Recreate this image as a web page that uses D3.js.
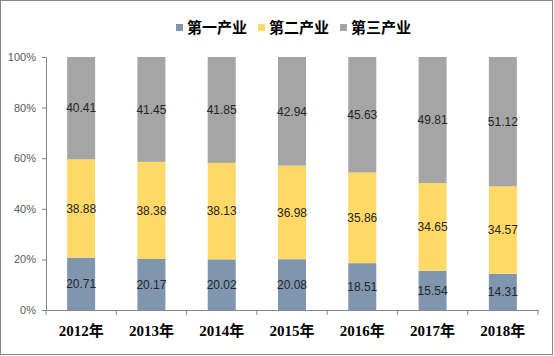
<!DOCTYPE html>
<html><head><meta charset="utf-8">
<script src="https://cdn.jsdelivr.net/npm/d3@7"></script>
<style>body{margin:0;background:#fff}svg{display:block}</style>
</head><body><svg id="c" width="554" height="356"></svg>
<script>
const years = ["2012年","2013年","2014年","2015年","2016年","2017年","2018年"];
const seriesNames = ["第一产业","第二产业","第三产业"];
const primary = [20.71,20.17,20.02,20.08,18.51,15.54,14.31];
const secondary = [38.88,38.38,38.13,36.98,35.86,34.65,34.57];
const tertiary = [40.41,41.45,41.85,42.94,45.63,49.81,51.12];
const yTicks = [0,20,40,60,80,100];
const colors = ["#8096b0","#ffd966","#a5a5a5"];

const svg = d3.select("#c");
svg.append("rect").attr("x",0.5).attr("y",0.5).attr("width",552).attr("height",354)
  .attr("fill","#fff").attr("stroke","#868686");

const y = d3.scaleLinear().domain([0,100]).range([310,57]);
const rows = years.map((yr,i)=>({year:yr, s0:primary[i], s1:secondary[i], s2:tertiary[i]}));
const stack = d3.stack().keys(["s0","s1","s2"])(rows);
const band = d3.scaleBand().domain(years).range([46,538]);

stack.forEach((layer,li)=>{
  const g = svg.append("g");
  g.selectAll("rect").data(layer).enter().append("rect")
    .attr("x",d=>band(d.data.year)+band.bandwidth()/2-14)
    .attr("width",28)
    .attr("y",d=>y(d[1]))
    .attr("height",d=>y(d[0])-y(d[1]))
    .attr("fill",colors[li]);
  g.selectAll("text").data(layer).enter().append("text")
    .attr("x",d=>band(d.data.year)+band.bandwidth()/2)
    .attr("y",d=>(y(d[0])+y(d[1]))/2)
    .attr("dy","0.35em")
    .attr("text-anchor","middle")
    .attr("font-family","Liberation Sans, Arial, sans-serif")
    .attr("font-size",12)
    .attr("fill","#262626")
    .text(d=>(d[1]-d[0]).toFixed(2));
});

// y axis
const yAxis = svg.append("g").attr("transform","translate(46,0)")
  .call(d3.axisLeft(y).tickValues(yTicks).tickSize(4).tickFormat(d=>d+"%"));
yAxis.select(".domain").attr("stroke","#868686");
yAxis.selectAll(".tick line").attr("stroke","#868686");
yAxis.selectAll(".tick text").attr("fill","#595959").attr("font-size",11)
  .attr("font-family","Liberation Sans, Arial, sans-serif").attr("x",-10);

// x axis
const xAxis = svg.append("g").attr("transform","translate(0,310)")
  .call(d3.axisBottom(band).tickSize(0).tickSizeOuter(0));
xAxis.select(".domain").attr("stroke","#868686");
xAxis.selectAll(".tick text").attr("fill","#000").attr("font-size",15).attr("font-weight","bold")
  .attr("font-family","Liberation Serif, Noto Sans CJK SC, serif").attr("y",15);
const bounds = years.map(yy=>band(yy)).concat([538]);
svg.append("g").selectAll("line").data(bounds).enter().append("line")
  .attr("x1",d=>d).attr("x2",d=>d).attr("y1",310).attr("y2",315).attr("stroke","#868686");

// legend
const legX = [176,258,340];
const lg = svg.append("g");
seriesNames.forEach((n,i)=>{
  lg.append("rect").attr("x",legX[i]).attr("y",24).attr("width",7).attr("height",7).attr("fill",colors[i]);
  lg.append("text").attr("x",legX[i]+11).attr("y",28).attr("dy","0.36em")
    .attr("font-family","Noto Sans CJK SC, sans-serif").attr("font-size",15).attr("font-weight","bold")
    .attr("fill","#000").text(n);
});
</script></body></html>
